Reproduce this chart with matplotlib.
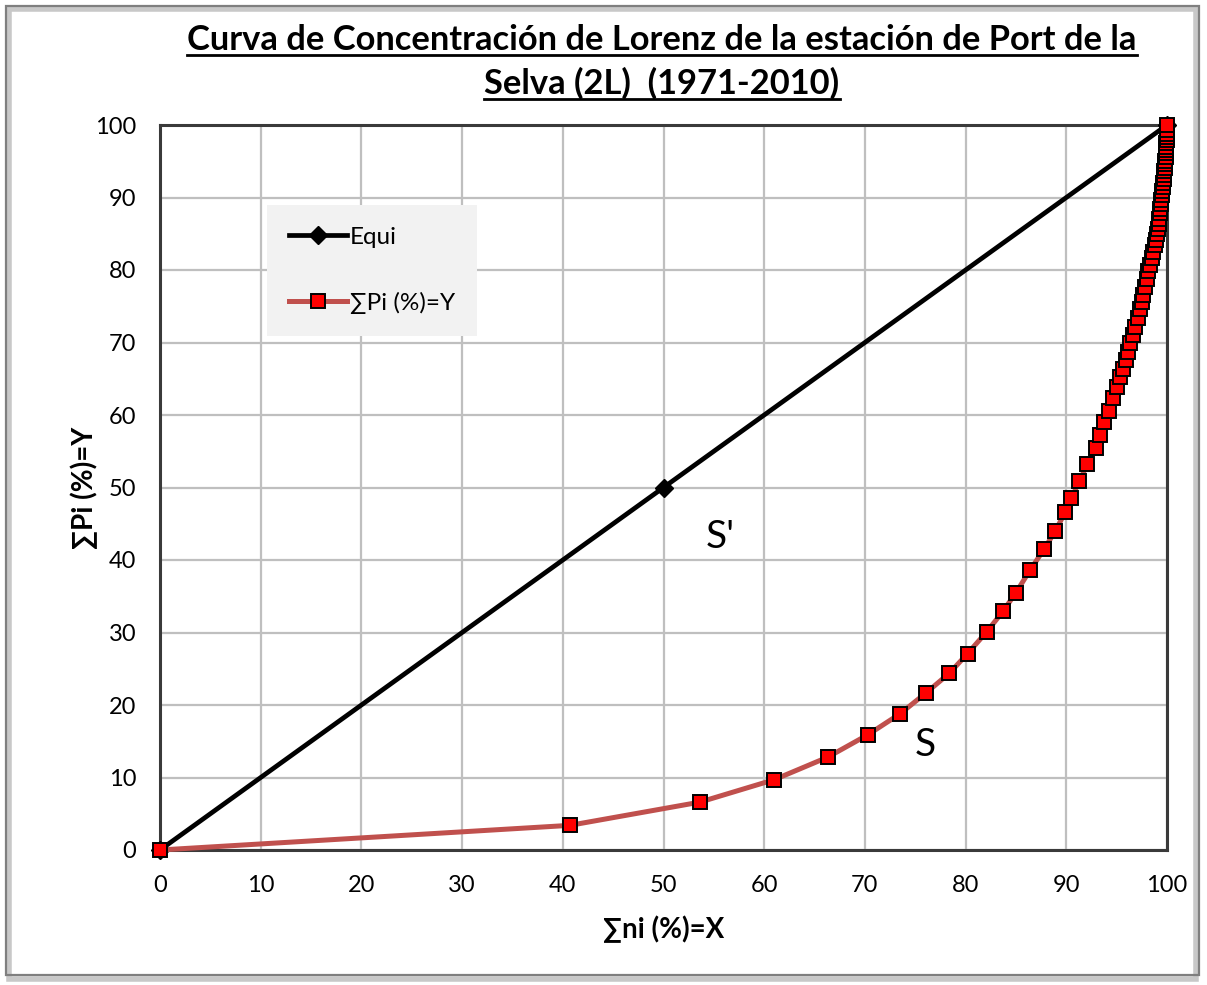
import matplotlib
matplotlib.use("Agg")
import matplotlib.pyplot as plt
from matplotlib.patches import Rectangle
from matplotlib.lines import Line2D

# Line of perfect equality
equi_x = [0, 50, 100]
equi_y = [0, 50, 100]

# Cumulative % of rainy days (X) vs cumulative % of rainfall (Y)
sum_ni = [0, 40.7, 53.6, 61.0, 66.3, 70.3, 73.5, 76.1, 78.4, 80.2, 82.1, 83.7,
          85.0, 86.4, 87.8, 88.9, 89.9, 90.5, 91.3, 92.1, 92.9, 93.3, 93.7,
          94.2, 94.6, 95.0, 95.3, 95.6, 95.9, 96.1, 96.3, 96.6, 96.8, 97.1,
          97.3, 97.5, 97.6, 97.8, 98.0, 98.1, 98.3, 98.5, 98.6, 98.8, 98.9,
          99.0, 99.1, 99.2, 99.25, 99.3, 99.35, 99.4, 99.45, 99.5, 99.55,
          99.6, 99.65, 99.7, 99.72, 99.75, 99.78, 99.8, 99.83, 99.86, 99.88,
          99.9, 99.92, 99.94, 99.96, 99.97, 99.98, 99.99, 100]
sum_pi = [0, 3.4, 6.6, 9.7, 12.8, 15.9, 18.8, 21.7, 24.4, 27.1, 30.1, 32.9,
          35.5, 38.6, 41.5, 44.0, 46.6, 48.5, 50.9, 53.2, 55.5, 57.2, 59.0,
          60.6, 62.3, 63.8, 65.2, 66.4, 67.6, 68.7, 70.0, 71.1, 72.2, 73.4,
          74.6, 75.6, 76.6, 77.7, 78.8, 79.8, 80.7, 81.6, 82.5, 83.4, 84.2,
          85.0, 85.7, 86.4, 87.1, 87.8, 88.4, 89.1, 89.7, 90.3, 90.9,
          91.5, 92.0, 92.6, 93.1, 93.6, 94.1, 94.6, 95.1, 95.6, 96.1,
          96.6, 97.0, 97.5, 97.9, 98.4, 98.8, 99.3, 100]

ticks = list(range(0, 101, 10))

title_lines = ["Curva de Concentración de Lorenz de la estación de Port de la",
               "Selva (2L)  (1971-2010)"]
xlabel = "∑ni (%)=X"
ylabel = "∑Pi (%)=Y"

FONT = ["Lato", "DejaVu Sans"]
plt.rcParams["font.family"] = FONT

W, H = 1207, 985
fig = plt.figure(figsize=(W / 100, H / 100), dpi=100)


def fx(px):
    return px / W


def fy(py):
    return 1 - py / H


# chart frame with a soft shadow
fig.patches.append(Rectangle((fx(9), fy(979)), fx(1196) - fx(9), fy(9) - fy(979),
                             transform=fig.transFigure, facecolor="none",
                             edgecolor="#C8C8C8", lw=4, zorder=-10))
fig.patches.append(Rectangle((fx(6), fy(975)), fx(1199) - fx(6), fy(6) - fy(975),
                             transform=fig.transFigure, facecolor="none",
                             edgecolor="#7F7F7F", lw=1.6, zorder=-9))

ax = fig.add_axes([fx(160), fy(850), fx(1167) - fx(160), fy(125) - fy(850)])
ax.set_zorder(2)
ax.set_xlim(0, 100)
ax.set_ylim(0, 100)
ax.set_xticks(ticks)
ax.set_yticks(ticks)
ax.grid(color="#BFBFBF", lw=1.6)
ax.set_axisbelow(True)
ax.tick_params(length=0, labelsize=17)
ax.tick_params(axis="x", pad=18)
ax.tick_params(axis="y", pad=17)
for s in ax.spines.values():
    s.set_color("#3A3A3A")
    s.set_linewidth(2.2)

ax.plot(equi_x, equi_y, color="black", lw=3.4, marker="D", ms=9,
        mfc="black", mec="black", label="Equi", zorder=3, clip_on=False)
ax.plot(sum_ni, sum_pi, color="#C0504D", lw=3.6, marker="s", ms=10,
        mfc="#FF0000", mec="black", mew=1.4, label="∑Pi (%)=Y",
        zorder=4, clip_on=False)

ax.set_xlabel(xlabel, fontsize=20, fontweight="bold", labelpad=14)
ax.set_ylabel(ylabel, fontsize=20, fontweight="bold", labelpad=-2)

ax.text(55.6, 43.2, "S'", fontsize=28, ha="center", va="center")
ax.text(76.0, 14.5, "S", fontsize=28, ha="center", va="center")

ax.legend(loc="upper left", bbox_to_anchor=(fx(267), fy(205)),
          bbox_transform=fig.transFigure, frameon=True, facecolor="#F2F2F2",
          edgecolor="none", fancybox=False, framealpha=1, handlelength=2.4,
          handletextpad=0.1, labelspacing=1.8, borderpad=0.9,
          borderaxespad=0, prop={"family": FONT, "size": 17.5})

# underlined two-line title
titles = []
for line, base in zip(title_lines, (50, 94)):
    t = fig.text(fx(662), fy(base), line, ha="center", va="baseline",
                 fontsize=24.8, fontweight="bold")
    titles.append((t, base))

fig.canvas.draw()
renderer = fig.canvas.get_renderer()
for t, base in titles:
    bb = t.get_window_extent(renderer)
    fig.lines.append(Line2D([bb.x0 / W, bb.x1 / W], [fy(base + 5), fy(base + 5)],
                            transform=fig.transFigure, color="black", lw=2))

fig.savefig("out.png", dpi=100)
